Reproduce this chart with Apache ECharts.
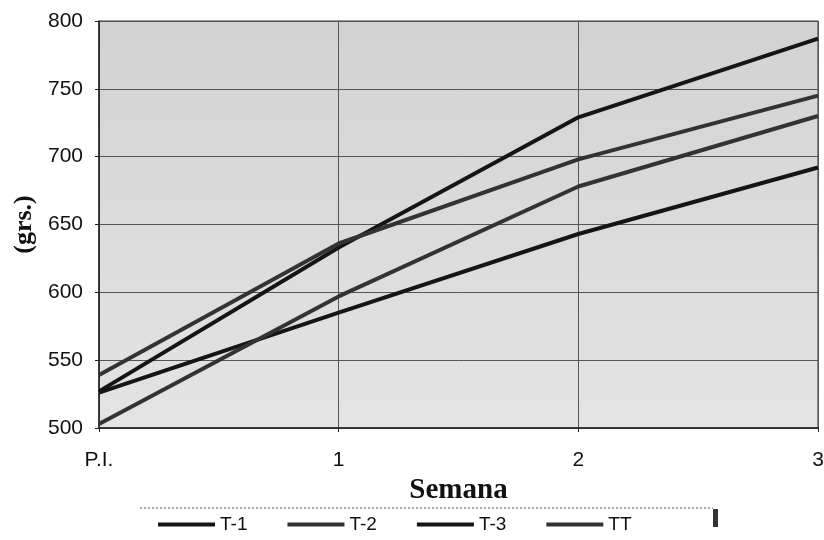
<!DOCTYPE html>
<html>
<head>
<meta charset="utf-8">
<script src="https://cdn.jsdelivr.net/npm/echarts@6/dist/echarts.min.js"></script>
<style>html,body{margin:0;padding:0;background:#fff}#c{width:824px;height:540px}</style>
</head>
<body>
<div id="c"></div>
<script>
var categories = ['P.I.', '1', '2', '3'];
var seriesNames = ['T-1', 'T-2', 'T-3', 'TT'];
var t1 = [527, 633, 729, 787];
var t2 = [539, 636, 698, 745];
var t3 = [526, 585, 643, 692];
var tt = [503, 597, 678, 730];
var yTicks = [500, 550, 600, 650, 700, 750, 800];

var colors = ['#151515', '#333333', '#151515', '#333333'];
var values = [t1, t2, t3, tt];
var sans = 'Liberation Sans, Arial, sans-serif';
var serif = 'Liberation Serif, Times New Roman, serif';

var chart = echarts.init(document.getElementById('c'));
chart.setOption({
  animation: false,
  backgroundColor: '#ffffff',
  grid: {left: 99, right: 6, top: 21, bottom: 112, show: true,
         containLabel: false, outerBoundsMode: 'none',
         backgroundColor: new echarts.graphic.LinearGradient(0, 0, 0, 1, [
           {offset: 0, color: '#d2d2d2'}, {offset: 1, color: '#e4e4e4'}]),
         borderColor: '#333', borderWidth: 1},
  xAxis: {
    type: 'category', data: categories, boundaryGap: false,
    name: 'Semana', nameLocation: 'middle', nameGap: 36,
    nameTextStyle: {fontFamily: serif, fontWeight: 'bold', fontSize: 29, color: '#111'},
    axisLine: {lineStyle: {color: '#222', width: 1.5}},
    axisTick: {show: true, length: 4, lineStyle: {color: '#222'}},
    axisLabel: {fontFamily: sans, fontSize: 21, color: '#111', margin: 22},
    splitLine: {show: true, lineStyle: {color: '#555', width: 1}}
  },
  yAxis: {
    type: 'value', min: yTicks[0], max: yTicks[yTicks.length - 1], interval: 50,
    name: '(grs.)', nameLocation: 'middle', nameGap: 61, nameRotate: 90,
    nameTextStyle: {fontFamily: serif, fontWeight: 'bold', fontSize: 26, color: '#111'},
    axisLine: {show: true, lineStyle: {color: '#222', width: 1.5}},
    axisTick: {show: true, length: 4, lineStyle: {color: '#222'}},
    axisLabel: {fontFamily: sans, fontSize: 21, color: '#111', margin: 16},
    splitLine: {show: true, lineStyle: {color: '#555', width: 1}}
  },
  legend: {
    left: 153, top: 510, icon: 'rect', itemWidth: 57, itemHeight: 4, itemGap: 40,
    textStyle: {fontFamily: sans, fontSize: 19, color: '#111', width: 48},
    data: seriesNames
  },
  graphic: [
    {type: 'line', shape: {x1: 140, y1: 508, x2: 713, y2: 508},
     style: {stroke: '#555', lineWidth: 1, lineDash: [2, 2]}},
    {type: 'rect', shape: {x: 713, y: 509, width: 5, height: 18}, style: {fill: '#333'}}
  ],
  series: seriesNames.map(function (n, i) {
    return {
      name: n, type: 'line', data: values[i], symbol: 'none',
      itemStyle: {color: colors[i]},
      lineStyle: {color: colors[i], width: 4}
    };
  })
});
</script>
</body>
</html>
